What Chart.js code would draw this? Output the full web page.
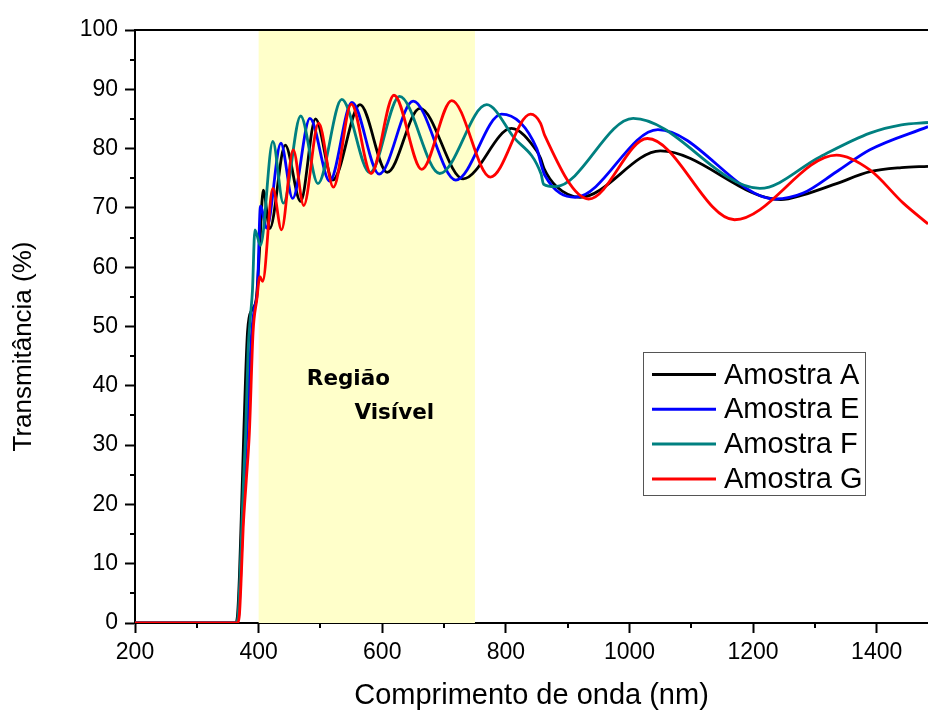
<!DOCTYPE html>
<html><head><meta charset="utf-8">
<script src="https://cdn.jsdelivr.net/npm/chart.js@4.4.0/dist/chart.umd.min.js"></script>
<style>html,body{margin:0;padding:0;background:#fff;}canvas{display:block}</style>
</head><body>
<canvas id="c" width="928" height="713"></canvas>
<script>
// ---- data ----
const seriesLabels = ['Amostra A', 'Amostra E', 'Amostra F', 'Amostra G'];
const seriesColors = ['#000000', '#0000ff', '#008080', '#ff0000'];

const wlA = [200, 363, 366, 369, 372, 376, 382, 389, 396, 401, 407.5, 418, 443, 468, 492, 520, 564, 608, 661, 731, 809, 850, 856, 862, 882, 920, 1050, 1245, 1281, 1335, 1389, 1440, 1483];
const tA  = [0, 0, 1.5, 8, 18, 32, 49, 52.8, 54.5, 62, 73, 66.5, 80.6, 71.1, 85, 74.7, 87.4, 76, 86.8, 74.9, 83.4, 79.6, 78.4, 76.6, 73.6, 71.8, 79.6, 71.4, 72.2, 74.1, 76.1, 76.8, 77];

const wlE = [200, 365, 368, 371, 374, 378, 382, 388, 393, 398, 403, 413, 436, 455, 483, 515, 551, 595, 650, 719, 793, 850, 858, 863, 912, 1046, 1236, 1281, 1335, 1389, 1483];
const tE  = [0, 0, 1.5, 8, 16, 26, 34, 48, 53, 56, 70.3, 66.6, 80.9, 71.6, 85.1, 74.5, 87.8, 75.7, 88, 74.7, 85.8, 80, 77, 75.5, 71.8, 83.2, 71.5, 72.5, 76.1, 79.8, 83.7];

const wlF = [200, 364, 367, 370, 373, 376, 379, 383, 387, 390, 394, 403, 423, 440, 468, 496, 534.5, 580, 628, 693, 769, 812, 857, 861, 880, 1006, 1211, 1308, 1389, 1440, 1483];
const tF  = [0, 0, 1.5, 8, 17, 25, 32, 46, 52, 56, 66.3, 63.7, 81.2, 70.8, 85.5, 74.1, 88.3, 75.9, 88.8, 75.8, 87.4, 82, 75.7, 74, 73.6, 85.1, 73.3, 78.6, 82.6, 84, 84.4];

const wlG = [200, 366, 369, 372, 375, 380, 385, 391, 397, 402, 406.5, 423, 437, 456, 473, 497, 521, 550, 582, 619, 664, 712.5, 775, 840, 856, 863, 934, 1029, 1170, 1335, 1389, 1443, 1483];
const tG  = [0, 0, 1.5, 8, 16, 24, 32, 49, 54.5, 58.4, 57.6, 73.3, 66.3, 79.8, 70.4, 84.3, 73.5, 87.5, 75.8, 89, 76.5, 88.1, 75.2, 85.8, 84.3, 82.2, 71.5, 81.7, 68, 78.9, 76.4, 70.8, 67.3];

const xRange = [200, 1483];
const yRange = [0, 100];
const xMajorStep = 200, xMinorStep = 100;
const yMajorStep = 10, yMinorStep = 5;
const visibleRegion = [400, 750];          // shaded band (nm)
const regionText = ['Região', 'Visível'];
const xTitle = 'Comprimento de onda (nm)';
const yTitle = 'Transmitância (%)';

// ---- build ----
const wls = [wlA, wlE, wlF, wlG];
const ts = [tA, tE, tF, tG];
const FONT = 'Liberation Sans, Arial, sans-serif';

const datasets = seriesLabels.map((lab, i) => ({
  label: lab,
  data: wls[i].map((x, j) => ({x: x, y: ts[i][j]})),
  borderColor: seriesColors[i],
  backgroundColor: seriesColors[i],
  borderWidth: 2.8,
  pointRadius: 0,
  fill: false,
  cubicInterpolationMode: 'monotone',
  order: 4 - i
}));

const decor = {
  id: 'decor',
  beforeDatasetsDraw(chart) {
    const {ctx, chartArea: a, scales: {x}} = chart;
    const x0 = x.getPixelForValue(visibleRegion[0]);
    const x1 = x.getPixelForValue(visibleRegion[1]);
    ctx.save();
    ctx.fillStyle = 'rgb(255,255,202)';
    ctx.fillRect(x0, a.top, x1 - x0, a.bottom - a.top);
    ctx.restore();
  },
  afterDraw(chart) {
    const {ctx, chartArea: a, scales: {x, y}} = chart;
    ctx.save();
    // minor ticks
    ctx.strokeStyle = '#000';
    ctx.lineWidth = 2;
    ctx.beginPath();
    for (let v = xRange[0] + xMinorStep; v < xRange[1]; v += xMajorStep) {
      const px = Math.round(x.getPixelForValue(v));
      ctx.moveTo(px, a.bottom); ctx.lineTo(px, a.bottom + 5);
    }
    for (let v = yRange[0] + yMinorStep; v < yRange[1]; v += yMajorStep) {
      const py = Math.round(y.getPixelForValue(v));
      ctx.moveTo(a.left, py); ctx.lineTo(a.left - 5, py);
    }
    ctx.stroke();
    // top border
    ctx.beginPath();
    ctx.moveTo(a.left - 1, a.top); ctx.lineTo(a.right, a.top);
    ctx.stroke();

    // y axis title (centred a little below the axis middle, as in the reference)
    ctx.fillStyle = '#000';
    ctx.font = '26px ' + FONT;
    ctx.textAlign = 'center';
    ctx.textBaseline = 'middle';
    ctx.translate(24, (a.top + a.bottom) / 2 + 20);
    ctx.rotate(-Math.PI / 2);
    ctx.fillText(yTitle, 0, 0);
    ctx.setTransform(1, 0, 0, 1, 0, 0);

    // region labels
    ctx.font = 'bold 21.5px "DejaVu Sans", sans-serif';
    ctx.textBaseline = 'middle';
    ctx.textAlign = 'left';
    ctx.fillText(regionText[0], x.getPixelForValue(478), y.getPixelForValue(41.1));
    ctx.fillText(regionText[1], x.getPixelForValue(555), y.getPixelForValue(35.4));

    // legend
    const bx = 643, by = 352, bw = 222, bh = 143;
    ctx.fillStyle = '#fff';
    ctx.fillRect(bx, by, bw, bh);
    ctx.strokeStyle = '#555';
    ctx.lineWidth = 1;
    ctx.strokeRect(bx + 0.5, by + 0.5, bw, bh);
    ctx.font = '29px ' + FONT;
    chart.data.datasets.forEach((ds, i) => {
      const ry = by + 22.5 + i * 34.8;
      ctx.strokeStyle = ds.borderColor;
      ctx.lineWidth = 3;
      ctx.beginPath();
      ctx.moveTo(bx + 9, ry); ctx.lineTo(bx + 73, ry);
      ctx.stroke();
      ctx.fillStyle = '#000';
      ctx.fillText(ds.label, bx + 81, ry + 1);
    });
    ctx.restore();
  }
};

new Chart(document.getElementById('c'), {
  type: 'line',
  data: {datasets},
  options: {
    responsive: false,
    animation: false,
    devicePixelRatio: 1,
    layout: {padding: {top: 30, left: 0, right: 0, bottom: 0}},
    plugins: {legend: {display: false}, tooltip: {enabled: false}},
    scales: {
      x: {
        type: 'linear', min: xRange[0], max: xRange[1],
        afterFit(s) { s.height = 90; },
        ticks: {stepSize: xMajorStep, includeBounds: false, color: '#000', maxRotation: 0, autoSkip: false,
                font: {family: FONT, size: 23}, padding: 6, callback: v => String(v)},
        grid: {display: true, drawOnChartArea: false, drawTicks: true, tickLength: 10, tickWidth: 2, tickColor: '#000'},
        border: {display: true, color: '#000', width: 2},
        title: {display: true, text: xTitle, color: '#000', font: {family: FONT, size: 29}, padding: {top: 0, bottom: 0}}
      },
      y: {
        type: 'linear', min: yRange[0], max: yRange[1],
        afterFit(s) { s.width = 135; },
        ticks: {stepSize: yMajorStep, color: '#000', font: {family: FONT, size: 23}, padding: 7, callback: v => String(v)},
        grid: {display: true, drawOnChartArea: false, drawTicks: true, tickLength: 10, tickWidth: 2, tickColor: '#000'},
        border: {display: true, color: '#000', width: 2},
        title: {display: false}
      }
    }
  },
  plugins: [decor]
});
</script>
</body></html>
